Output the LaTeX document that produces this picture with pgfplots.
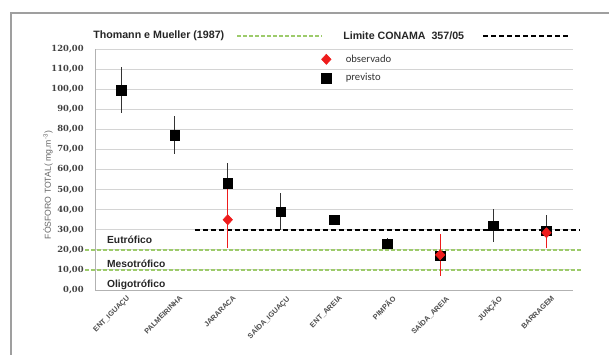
\documentclass[border=0pt]{standalone}
\usepackage{pgfplots}
\pgfplotsset{compat=1.18}
\usepackage{pgfplotstable}
\usepackage{fontspec}
\setmainfont{Liberation Sans}
\newfontfamily\calibri{Carlito}
\newfontfamily\tickfont{DejaVu Serif}
\definecolor{lgreen}{HTML}{9DCB6B}
\definecolor{gridc}{HTML}{D4D4D4}
\definecolor{mred}{HTML}{EE1C1C}

\pgfplotstableread{
x y ep em
0 99.5 11.5 11.5
1 77 9.5 9.5
2 53 10 0
3 39 9.5 9
4 35 0 0
5 23 3 0
6 17 0 0
7 32 8.5 8
8 29.5 8 0
}\prev

\pgfplotstableread{
x y ep em
2 35 15.5 14
6 17.5 10.5 10.5
8 28.5 0 7.5
}\obs

\begin{document}
\begin{tikzpicture}
\begin{axis}[
  at={(71.25pt,48pt)}, anchor=south west,
  scale only axis, width=358.5pt, height=180.75pt,
  xmin=-0.5, xmax=8.5, ymin=0, ymax=120,
  ytick={0,10,...,120},
  /pgf/number format/assume math mode=true,
  yticklabel style={font=\tickfont\bfseries\fontsize{6.3}{7}\selectfont, text=black!75, xshift=-5pt,
     /pgf/number format/.cd, fixed, fixed zerofill, precision=2, use comma},
  xtick={0,...,8},
  xticklabels={ENT\_IGUAÇU, PALMEIRINHA, JARARACA, SAÍDA\_IGUAÇU, ENT\_AREIA, PIMPÃO, SAÍDA\_AREIA, JUNÇÃO, BARRAGEM},
  xticklabel style={rotate=45, anchor=north east, inner sep=0pt, xshift=0pt, yshift=-5pt,
     font=\bfseries\fontsize{5.5}{6}\selectfont, text=black!70},
  axis x line*=bottom, axis y line*=left,
  axis line style={gray!60, line width=0.75pt},
  major tick length=0pt,
  ymajorgrids, grid style={gridc, line width=0.75pt},
  clip=false,
  reverse legend,
  legend style={at={(0.465,1.0)}, anchor=north west, draw=none, fill=none,
     font=\calibri\fontsize{8}{9}\selectfont, text=black!80, row sep=3pt,
     /tikz/every odd column/.append style={column sep=9pt}},
  legend cell align=left,
]
\addplot[forget plot, lgreen, line width=1.5pt, dash pattern=on 3pt off 1.5pt] coordinates {(-0.69,20) (8.65,20)};
\addplot[forget plot, lgreen, line width=1.5pt, dash pattern=on 3pt off 1.5pt] coordinates {(-0.69,10) (8.65,10)};
\addplot[forget plot, black, line width=1.8pt, dash pattern=on 4pt off 2pt] coordinates {(1.38,30) (8.63,30)};

\addplot[only marks, mark=square*, mark size=3.6pt, black,
   error bars/.cd, y dir=both, y explicit, error mark=none,
   error bar style={black!80, line width=0.75pt}]
   table[x=x, y=y, y error plus=ep, y error minus=em] {\prev};
\addlegendentry{previsto}
\addplot[only marks, mark=diamond*, mark size=3.8pt, mred, mark options={xscale=1.25},
   error bars/.cd, y dir=both, y explicit, error mark=none,
   error bar style={mred, line width=0.75pt}]
   table[x=x, y=y, y error plus=ep, y error minus=em] {\obs};
\addlegendentry{observado}

\node[anchor=west, font=\bfseries\fontsize{7.7}{9}\selectfont, text=black!85] at (axis cs:-0.36,25) {Eutrófico};
\node[anchor=west, font=\bfseries\fontsize{7.7}{9}\selectfont, text=black!85] at (axis cs:-0.36,13) {Mesotrófico};
\node[anchor=west, font=\bfseries\fontsize{7.7}{9}\selectfont, text=black!85] at (axis cs:-0.36,2.5) {Oligotrófico};
\end{axis}

\begin{scope}[x=0.75pt, y=0.75pt]
\draw[gray!75, line width=1.5pt] (10.5,-10) -- (10.5,341) -- (620,341);
\node[anchor=west, inner sep=0pt, font=\bfseries\fontsize{8}{9}\selectfont, text=black!85] at (93,318) {Thomann e Mueller (1987)};
\draw[lgreen, line width=1.5pt, dash pattern=on 3pt off 1.5pt] (237,318) -- (322,318);
\node[anchor=west, inner sep=0pt, font=\bfseries\fontsize{8}{9}\selectfont, text=black!85] at (343,318) {Limite CONAMA\ \ 357/05};
\draw[black, line width=1.8pt, dash pattern=on 4pt off 2pt] (483,318) -- (568,318);
\node[rotate=90, font=\fontsize{6.5}{8}\selectfont, text=black!60] at (48,169) {FÓSFORO TOTAL( mg.m\textsuperscript{-3})};
\end{scope}
\pgfresetboundingbox
\path[use as bounding box] (0,0) rectangle (456.75pt,265.5pt);
\end{tikzpicture}
\end{document}
